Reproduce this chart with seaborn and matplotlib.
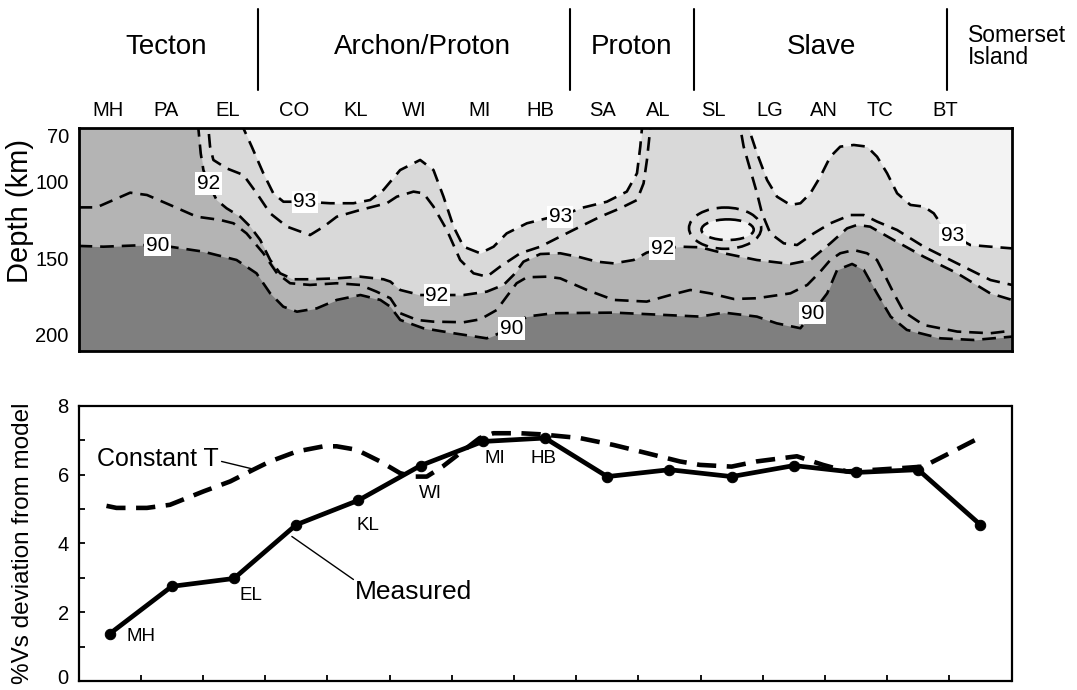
import matplotlib
matplotlib.use("Agg")
import matplotlib.pyplot as plt
from matplotlib.patches import Ellipse
from matplotlib.transforms import ScaledTranslation
import pandas as pd
import seaborn as sns

sns.set_theme(style="ticks")
plt.rcParams["font.family"] = ["Liberation Sans", "DejaVu Sans"]
plt.rcParams["axes.linewidth"] = 1.6
for key in ("text.color", "axes.labelcolor", "xtick.color", "ytick.color",
            "axes.edgecolor"):
    plt.rcParams[key] = "black"

# ---------------- stations and provinces ----------------
stations = ["MH", "PA", "EL", "CO", "KL", "WI", "MI", "HB",
            "SA", "AL", "SL", "LG", "AN", "TC", "BT"]
station_x = [0.5, 1.5, 2.5, 3.5, 4.5, 5.5, 6.5, 7.5,
             8.5, 9.5, 10.5, 11.5, 12.5, 13.5, 14.5]
header_x = [0.48, 1.40, 2.39, 3.46, 4.46, 5.40, 6.44, 7.42,
            8.42, 9.32, 10.20, 11.11, 11.97, 12.87, 13.92]
provinces = ["Tecton", "Archon/Proton", "Proton", "Slave"]
province_x = [1.41, 5.52, 8.88, 11.94]
province_breaks = [2.89, 7.90, 9.89, 13.96]

# ---------------- velocity deviation profile ----------------
measured = [1.37, 2.75, 2.98, 4.54, 5.25, 6.26, 6.96, 7.06,
            5.94, 6.14, 5.94, 6.26, 6.06, 6.14, 4.54]
const_t_x = [0.45, 0.61, 1.10, 1.47, 2.01, 2.44, 2.81, 3.08, 3.51, 3.94,
             4.15, 4.47, 4.85, 5.17, 5.38, 5.60, 5.86, 6.24, 6.45, 6.67,
             7.10, 7.42, 8.06, 8.60, 9.14, 9.67, 9.99, 10.50, 10.90, 11.33,
             11.55, 11.97, 12.35, 12.83, 13.26, 13.58, 13.96, 14.52]
const_t_y = [5.09, 5.03, 5.03, 5.12, 5.51, 5.80, 6.14, 6.38, 6.67, 6.82,
             6.82, 6.72, 6.38, 6.04, 5.94, 5.94, 6.24, 6.77, 7.06, 7.20,
             7.20, 7.17, 7.06, 6.86, 6.62, 6.38, 6.28, 6.23, 6.38, 6.48,
             6.53, 6.28, 6.09, 6.14, 6.19, 6.23, 6.58, 7.10]
bottom_labels = ["MH", "EL", "KL", "WI", "MI", "HB"]
bottom_label_x = [1.01, 2.78, 4.65, 5.66, 6.70, 7.47]
bottom_label_y = [1.30, 2.49, 4.52, 5.46, 6.47, 6.48]

# ---------------- contour depths (km); 40 = above the plotted range ----------------
x90 = [0.0, 0.40, 1.10, 1.47, 2.00, 2.54, 2.86, 3.08, 3.29, 3.51, 3.83, 4.15,
       4.53, 4.85, 5.01, 5.17, 5.54, 6.03, 6.56, 6.96, 7.20, 7.63, 8.60, 9.40,
       9.99, 10.37, 10.90, 11.22, 11.60, 11.79, 12.03, 12.19, 12.43, 12.62,
       12.83, 13.05, 13.31, 13.85, 14.39, 15.0]
d90 = [142.1, 142.6, 141.5, 142.6, 145.8, 151.3, 160.0, 173.1, 181.8, 185.1,
       182.9, 177.4, 174.2, 177.4, 181.8, 190.5, 195.9, 199.2, 202.5, 196.0,
       188.3, 186.1, 185.7, 187.2, 188.3, 185.7, 188.3, 192.7, 195.9, 186.0,
       173.1, 157.8, 153.9, 157.8, 173.1, 188.3, 197.0, 202.5, 203.6, 201.4]

x91 = [0.0, 0.29, 0.56, 0.83, 1.10, 1.47, 1.90, 2.275, 2.49, 2.70, 2.97, 3.19,
       3.40, 3.72, 4.15, 4.525, 4.79, 5.01, 5.17, 5.44, 5.70, 6.19, 6.455,
       6.72, 6.88, 7.04, 7.205, 7.53, 7.74, 8.17, 8.60, 9.13, 9.51, 9.83,
       10.15, 10.53, 10.90, 11.44, 11.71, 11.92, 12.08, 12.24, 12.46, 12.67,
       12.83, 12.94, 13.10, 13.26, 13.58, 14.12, 14.65, 15.0]
d91 = [116.9, 116.9, 112.1, 107.3, 108.8, 115.3, 123.0, 125.1, 127.3, 133.9,
       146.9, 160.0, 166.5, 167.6, 166.5, 167.6, 172.0, 176.3, 186.1, 190.5,
       191.6, 192.0, 190.1, 184.0, 175.2, 166.5, 162.6, 162.2, 163.3, 170.9,
       177.4, 178.5, 174.2, 170.9, 173.1, 176.8, 176.3, 173.1, 167.6, 158.9,
       151.3, 146.9, 144.8, 146.9, 151.3, 160.0, 173.1, 185.1, 193.8, 198.1,
       199.2, 197.5]

x92 = [0.0, 1.90, 1.926, 1.964, 2.007, 2.087, 2.22, 2.38, 2.60, 2.76, 2.92,
       3.08, 3.24, 3.45, 3.72, 4.15, 4.525, 4.90, 5.01, 5.17, 5.49, 5.76, 6.19,
       6.56, 6.83, 6.99, 7.15, 7.42, 7.74, 8.06, 8.33, 8.60, 8.92, 9.13, 9.38,
       9.67, 9.99, 10.37, 10.90, 11.44, 11.76, 12.08, 12.35, 12.51, 12.72,
       13.05, 13.58, 14.12, 14.65, 15.0]
d92 = [40, 40, 65.2, 81.6, 92.5, 101.2, 112.1, 117.5, 123.0, 129.5, 138.2,
       151.3, 160.0, 163.9, 163.9, 163.3, 162.2, 163.9, 165.4, 170.9, 174.2,
       174.2, 174.2, 172.0, 167.6, 161.1, 152.4, 147.4, 146.9, 149.5, 152.4,
       153.5, 151.3, 146.5, 143.7, 142.6, 143.0, 146.9, 151.3, 153.9, 151.3,
       140.4, 130.6, 128.4, 129.5, 137.1, 149.1, 160.0, 173.1, 177.4]

x925 = [0.0, 2.07, 2.087, 2.114, 2.167, 2.38, 2.65, 2.864, 3.08, 3.35, 3.72,
        3.94, 4.15, 4.525, 4.954, 5.115, 5.383, 5.544, 5.704, 5.919, 6.133,
        6.347, 6.562, 6.776, 7.098, 7.42, 7.74, 8.06, 8.384, 8.705, 8.974,
        9.08, 9.134, 9.188, 9.20, 10.62, 10.635, 10.688, 10.796, 10.903,
        10.983, 11.117, 11.332, 11.546, 11.814, 12.082, 12.404, 12.618,
        12.832, 13.154, 13.583, 14.118, 14.654, 15.0]
d925 = [40, 40, 65.2, 77.2, 85.9, 91.4, 95.7, 107.7, 120.8, 129.5, 135.0,
        129.5, 123.0, 118.6, 114.2, 109.9, 106.6, 107.7, 116.4, 131.7, 151.3,
        160.0, 162.2, 155.6, 146.9, 142.6, 136.0, 129.5, 123.0, 117.5, 112.1,
        101.2, 85.9, 65.2, 40, 40, 65.2, 77.2, 92.5, 107.7, 120.8, 133.9,
        140.4, 141.5, 133.9, 127.3, 121.9, 121.9, 126.2, 131.7, 142.6, 153.5,
        164.4, 167.6]

x93 = [0.0, 2.63, 2.65, 2.784, 2.97, 3.13, 3.293, 3.64, 4.043, 4.418, 4.686,
       4.90, 5.168, 5.49, 5.704, 5.865, 6.026, 6.187, 6.455, 6.67, 6.88, 7.205,
       7.527, 7.74, 8.06, 8.49, 8.81, 8.974, 9.027, 9.054, 9.07, 10.75,
       10.769, 10.903, 11.064, 11.224, 11.439, 11.60, 11.76, 11.92, 12.08,
       12.24, 12.457, 12.671, 12.832, 12.993, 13.154, 13.368, 13.583, 13.743,
       13.85, 14.038, 14.33, 14.654, 15.0]
d93 = [40, 40, 65.2, 77.2, 94.6, 107.7, 113.2, 113.2, 114.2, 114.2, 112.1,
       105.5, 92.5, 85.9, 92.5, 109.9, 129.5, 142.6, 146.9, 142.6, 133.9,
       127.3, 124.0, 123.0, 117.5, 113.2, 106.6, 94.6, 77.2, 65.2, 40, 40,
       65.2, 81.6, 99.0, 109.9, 115.3, 114.2, 107.7, 96.8, 83.8, 77.2, 76.1,
       77.2, 83.8, 94.6, 107.7, 115.3, 116.4, 120.8, 127.3, 135.0, 141.5,
       142.6, 143.7]

# closed 92.5 / 93 contours beneath SL: centre x, centre depth, width, height
loop_outer = [10.39, 130.5, 1.16, 27.0]
loop_inner = [10.43, 131.5, 0.84, 13.5]

label_90 = [(1.27, 141.5), (6.96, 196.0), (11.79, 186.0)]
label_92 = [(2.09, 101.2), (5.76, 174.2), (9.38, 143.7)]
label_93 = [(3.64, 113.2), (7.74, 123.0), (14.04, 135.0)]

shade_top = "#f3f3f3"
shade_93 = "#d9d9d9"
shade_92 = "#b4b4b4"
shade_90 = "#7f7f7f"

W, H = 1077, 690
fig = plt.figure(figsize=(W / 100, H / 100), dpi=100)

def box(l, t, r, b):
    return [l / W, 1 - b / H, (r - l) / W, (b - t) / H]

ax_head = fig.add_axes(box(78.5, 0, 1012, 128.3))
ax_top = fig.add_axes(box(78.5, 128.3, 1012, 350.7))
ax_bot = fig.add_axes(box(78.5, 405.7, 1011.5, 681))

# ---------------- header ----------------
ax_head.set_xlim(0, 15)
ax_head.set_ylim(0, 1)
ax_head.axis("off")
for name, xc in zip(provinces, province_x):
    ax_head.text(xc, 0.635, name, ha="center", va="center", fontsize=20)
ax_head.text(14.29, 0.635, "Somerset\nIsland", ha="left", va="center",
             fontsize=16.5, linespacing=0.95)
for xb in province_breaks:
    ax_head.plot([xb, xb], [0.302, 0.933], color="black", lw=1.5,
                 clip_on=False)
for name, xc in zip(stations, header_x):
    ax_head.text(xc, 0.14, name, ha="center", va="center", fontsize=14.5)

# ---------------- depth section ----------------
ax_top.set_facecolor(shade_top)
bottom_depth = 230
ax_top.fill_between(x93, d93, bottom_depth, color=shade_93, lw=0)
ax_top.fill_between(x92, d92, bottom_depth, color=shade_92, lw=0)
ax_top.fill_between(x90, d90, bottom_depth, color=shade_90, lw=0)
ax_top.add_patch(Ellipse(loop_inner[:2], loop_inner[2], loop_inner[3],
                         facecolor=shade_top, edgecolor="none", zorder=2))

dash = (0, (5.2, 3.0))
for xs, ds in [(x90, d90), (x91, d91), (x92, d92), (x925, d925), (x93, d93)]:
    ax_top.plot(xs, ds, color="black", lw=1.9, linestyle=dash, zorder=3)
for e in (loop_outer, loop_inner):
    ax_top.add_patch(Ellipse(e[:2], e[2], e[3], facecolor="none",
                             edgecolor="black", lw=1.9, linestyle=dash,
                             zorder=3))

for text, spots in (("90", label_90), ("92", label_92), ("93", label_93)):
    for xl, dl in spots:
        ax_top.text(xl, dl, text, ha="center", va="center", fontsize=15,
                    zorder=4,
                    bbox=dict(boxstyle="square,pad=0.08", fc="white",
                              ec="none"))

ax_top.set_xlim(0, 15)
ax_top.set_ylim(210.6, 65.2)
ax_top.set_xticks([])
ax_top.set_yticks([70, 100, 150, 200])
ax_top.tick_params(axis="y", length=0, pad=7, labelsize=14.5)
ax_top.set_ylabel("Depth (km)", fontsize=21)
ax_top.yaxis.set_label_coords(-0.048, 0.63)
for s in ax_top.spines.values():
    s.set_linewidth(2.0)
    s.set_color("black")

# ---------------- deviation profile ----------------
df_meas = pd.DataFrame({"x": station_x, "v": measured})
df_const = pd.DataFrame({"x": const_t_x, "v": const_t_y})
sns.lineplot(data=df_const, x="x", y="v", ax=ax_bot, color="black", lw=3.3,
             sort=False)
ax_bot.lines[-1].set_linestyle((0, (4.2, 2.3)))
sns.lineplot(data=df_meas, x="x", y="v", ax=ax_bot, color="black", lw=3.4,
             marker="o", markersize=7.5, markeredgecolor="black", sort=False)

for name, xl, yl in zip(bottom_labels, bottom_label_x, bottom_label_y):
    ax_bot.text(xl, yl, name, ha="center", va="center", fontsize=13.5)

ax_bot.text(0.29, 6.44, "Constant T", ha="left", va="center", fontsize=18)
ax_bot.plot([2.30, 2.78], [6.38, 6.17], color="black", lw=1.0)
ax_bot.text(4.45, 2.58, "Measured", ha="left", va="center", fontsize=19)
ax_bot.plot([3.43, 4.42], [4.20, 2.95], color="black", lw=1.0)

ax_bot.set_xlim(0, 15)
ax_bot.set_ylim(0, 8)
ax_bot.set_xticks(list(range(1, 15)))
ax_bot.set_xticklabels([])
ax_bot.set_yticks([0, 2, 4, 6, 8])
ax_bot.set_yticks([1, 3, 5, 7], minor=True)
ax_bot.tick_params(axis="both", which="both", direction="in", length=4.5,
                   width=1.3, color="black")
ax_bot.tick_params(axis="y", pad=7, labelsize=14.5)
ax_bot.set_xlabel("")
ax_bot.set_ylabel("%Vs deviation from model", fontsize=17.5)
ax_bot.yaxis.set_label_coords(-0.048, 0.5)
for s in ax_bot.spines.values():
    s.set_linewidth(1.6)
    s.set_color("black")
    s.set_visible(True)

# keep the "0" tick label inside the canvas
fig.canvas.draw()
zero_label = ax_bot.yaxis.get_majorticklabels()[0]
zero_label.set_transform(zero_label.get_transform()
                         + ScaledTranslation(0, 3 / 72, fig.dpi_scale_trans))

fig.savefig("out.png", dpi=100)
